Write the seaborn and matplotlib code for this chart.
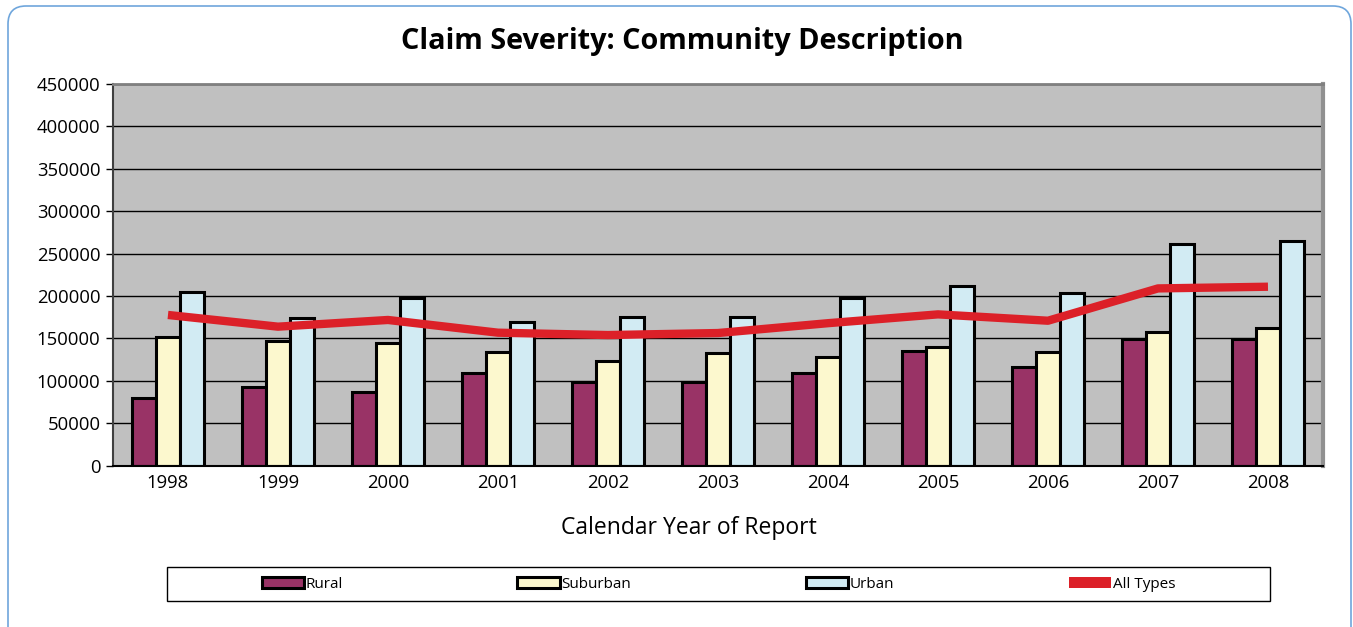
import numpy as np
import pandas as pd
import matplotlib
matplotlib.use("Agg")
import matplotlib.pyplot as plt
import seaborn as sns
from matplotlib.patches import Patch, Rectangle, FancyBboxPatch

# values
years = ['1998', '1999', '2000', '2001', '2002', '2003', '2004', '2005', '2006', '2007', '2008']
rural = [80200, 92400, 87200, 108900, 99000, 98300, 109600, 135200, 116000, 149300, 149000]
suburban = [152000, 147000, 145000, 134400, 123400, 132500, 128500, 139500, 134000, 158000, 162700]
urban = [204800, 174100, 197300, 169000, 174900, 174900, 198000, 212200, 203500, 261000, 264500]
all_types = [177700, 163900, 171800, 156800, 154000, 156400, 168000, 178400, 170900, 209000, 211000]

series = ['Rural', 'Suburban', 'Urban']
colors = {'Rural': '#993366', 'Suburban': '#FCF8CE', 'Urban': '#D2EBF3'}
line_color = '#DC2028'

df = pd.DataFrame({'Year': years, 'Rural': rural, 'Suburban': suburban, 'Urban': urban})
long_df = df.melt(id_vars='Year', var_name='Type', value_name='Severity')
line_df = pd.DataFrame({'Year': years, 'All Types': all_types})

sns.set_style('white')
plt.rcParams['font.family'] = ['Open Sans', 'DejaVu Sans']
plt.rcParams['text.color'] = 'black'
plt.rcParams['axes.labelcolor'] = 'black'
plt.rcParams['xtick.color'] = 'black'
plt.rcParams['ytick.color'] = 'black'

fig = plt.figure(figsize=(13.53, 6.27), dpi=100)
ax = fig.add_axes([0.0835, 0.2573, 0.8943, 0.6087])
ax.set_facecolor('#C0C0C0')

sns.barplot(data=long_df, x='Year', y='Severity', hue='Type', hue_order=series,
            palette=colors, saturation=1, width=0.66, edgecolor='black', linewidth=2.2,
            errorbar=None, legend=False, ax=ax)
sns.pointplot(data=line_df, x='Year', y='All Types', color=line_color,
              markers='', linewidth=6, errorbar=None, ax=ax)
for ln in ax.lines:
    ln.set_zorder(5)
    ln.set_solid_capstyle('butt')

ax.set_ylim(0, 450000)
ax.set_xlim(-0.5, len(years) - 0.5)
ax.set_yticks(np.arange(0, 450001, 50000))
ax.set_yticklabels([str(v) for v in range(0, 450001, 50000)], fontsize=13.3)
ax.yaxis.grid(True, color='black', linewidth=1)
ax.set_axisbelow(True)

ax.set_xticks(range(len(years)))
ax.set_xticklabels(years, fontsize=13.3)
ax.set_xticks(np.arange(-0.5, len(years), 1), minor=True)
ax.tick_params(axis='x', which='major', length=0, pad=6)
ax.tick_params(axis='x', which='minor', length=5, width=1, color='black', direction='out')
ax.tick_params(axis='y', length=5, width=1, color='black', direction='out', pad=4, left=True)

ax.set_xlabel('')
ax.set_ylabel('')

ax.spines['left'].set_color('#404040')
ax.spines['left'].set_linewidth(1.5)
ax.spines['bottom'].set_color('black')
ax.spines['bottom'].set_linewidth(1.5)
ax.spines['top'].set_color('#808080')
ax.spines['top'].set_linewidth(2)
ax.spines['right'].set_color('#909090')
ax.spines['right'].set_linewidth(3)

fig.text(682 / 1353, 1 - 42 / 627, 'Claim Severity: Community Description', ha='center',
         va='center', fontsize=20.8, fontweight='bold')
fig.text(689 / 1353, 1 - 528 / 627, 'Calendar Year of Report', ha='center', va='center',
         fontsize=16.5)

# legend box
fig.patches.append(Rectangle((167 / 1353, 1 - 601 / 627), (1270 - 167) / 1353, 34 / 627,
                             transform=fig.transFigure, facecolor='white',
                             edgecolor='black', linewidth=1, zorder=1))
handles = [Patch(facecolor=colors[s], edgecolor='black', linewidth=2.2, label=s) for s in series]
handles.append(Patch(facecolor=line_color, edgecolor=line_color, linewidth=0, label='All Types'))
fig.legend(handles=handles, loc='center', bbox_to_anchor=(718.5 / 1353, 1 - 584 / 627),
           ncol=4, frameon=False, fontsize=11, handlelength=2.8, handleheight=0.7,
           handletextpad=0.1, columnspacing=11.4)

# outer rounded border
fig.patches.append(FancyBboxPatch((0.08, -0.3), 13.43, 6.51,
                                  boxstyle='round,pad=0,rounding_size=0.18',
                                  transform=fig.dpi_scale_trans, facecolor='none',
                                  edgecolor='#6FA6DC', linewidth=1.2, zorder=0))

fig.savefig('out.png', dpi=100)
